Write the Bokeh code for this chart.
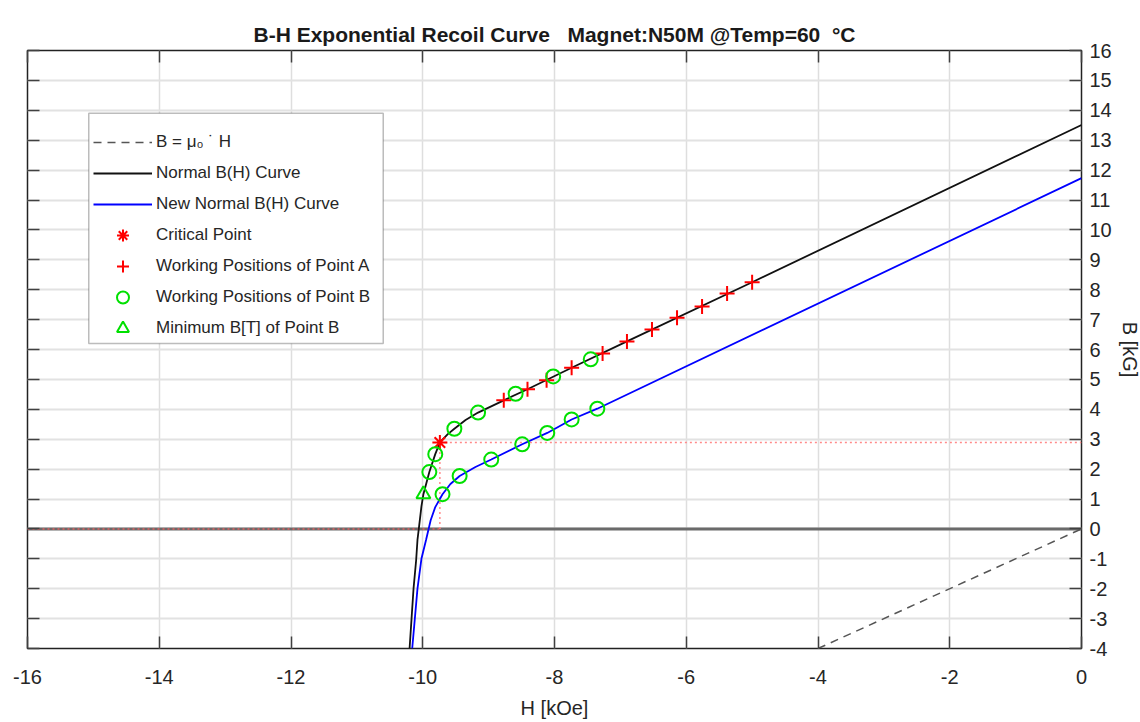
from bokeh.plotting import figure
from bokeh.models import Range1d, LinearAxis, FixedTicker, Legend, LegendItem, BoxAnnotation, Span
from bokeh.embed import file_html
from bokeh.resources import INLINE

# ---------------- data ----------------
x_ticks = [-16, -14, -12, -10, -8, -6, -4, -2, 0]
y_ticks = list(range(-4, 17))

mu0_H = [-4.0, 0.0]
mu0_B = [-4.0, 0.0]

normal_H = [-10.20, -10.17, -10.14, -10.10, -10.08, -10.06, -10.02, -9.99, -9.90,
            -9.81, -9.74, -9.62, -9.52, -9.35, -9.16, -8.77, -8.41, -7.74, -6.90, -5.00, 0.0]
normal_B = [-4.00, -3.00, -2.00, -1.04, -0.37, 0.00, 0.75, 1.16, 1.90,
            2.50, 2.89, 3.17, 3.35, 3.64, 3.89, 4.30, 4.67, 5.39, 6.27, 8.25, 13.51]

new_H = [-10.16, -10.12, -10.08, -10.02, -9.95, -9.88, -9.81, -9.70, -9.58, -9.44,
         -9.20, -8.96, -8.49, -8.11, -7.74, -7.35, 0.0]
new_B = [-4.00, -3.00, -2.00, -1.00, -0.37, 0.29, 0.73, 1.16, 1.50, 1.77,
         2.07, 2.32, 2.83, 3.21, 3.66, 4.02, 11.73]

crit_H = [-9.74]
crit_B = [2.89]

ptA_H = [-5.00, -5.38, -5.76, -6.14, -6.52, -6.90, -7.27, -7.74, -8.12, -8.41, -8.77]
ptA_B = [8.25, 7.87, 7.44, 7.06, 6.67, 6.27, 5.87, 5.39, 4.97, 4.67, 4.30]

ptB_H = [-7.45, -8.02, -8.59, -9.16, -9.52, -9.81, -9.90,
         -9.70, -9.44, -8.96, -8.49, -8.11, -7.74, -7.35]
ptB_B = [5.67, 5.10, 4.52, 3.89, 3.35, 2.50, 1.90,
         1.16, 1.77, 2.32, 2.83, 3.21, 3.66, 4.02]

minB_H = [-9.99]
minB_B = [1.16]

H_min, H_max = -16, 0
B_min, B_max = -4, 16

FONT = "Liberation Sans"
TXT = "#262626"

p = figure(frame_width=1054, frame_height=598,
           x_range=Range1d(H_min, H_max), y_range=Range1d(B_min, B_max),
           output_backend="svg", toolbar_location=None,
           x_axis_location="below", y_axis_location="right",
           min_border_left=27, min_border_top=50, min_border_right=40, min_border_bottom=70,
           title="B-H Exponential Recoil Curve \u00a0 Magnet:N50M @Temp=60 \u00a0\u00b0C")
p.background_fill_color = "white"
p.border_fill_color = "white"
p.outline_line_color = "#222222"
p.outline_line_width = 1.5

p.title.align = "center"
p.title.text_font = FONT
p.title.text_font_size = "21px"
p.title.text_font_style = "bold"
p.title.text_color = "#1a1a1a"

xt = FixedTicker(ticks=x_ticks)
yt = FixedTicker(ticks=y_ticks)

for ax in p.xaxis:
    ax.ticker = xt
    ax.axis_label = "H [kOe]"
    ax.major_label_overrides = {t: str(t) for t in x_ticks}
for ax in p.yaxis:
    ax.ticker = yt
    ax.axis_label = "B [kG]"
    ax.major_label_overrides = {t: str(t) for t in y_ticks}

for ax in list(p.xaxis) + list(p.yaxis):
    ax.major_tick_in = 12
    ax.major_tick_out = 0
    ax.minor_tick_line_color = None
    ax.axis_line_color = None
    ax.major_tick_line_color = "#404040"
    ax.major_tick_line_width = 1.5
    ax.major_label_text_font = FONT
    ax.major_label_text_font_size = "20px"
    ax.major_label_text_color = TXT
    ax.axis_label_text_font = FONT
    ax.axis_label_text_font_size = "20px"
    ax.axis_label_text_font_style = "normal"
    ax.axis_label_text_color = TXT

p.xaxis.major_label_standoff = 21
p.xaxis.axis_label_standoff = 10
p.yaxis.major_label_standoff = 8
p.yaxis.axis_label_standoff = 4

# mirrored axes (box on): ticks only, no labels
top_ax = LinearAxis(ticker=xt, major_tick_in=12, major_tick_out=0, minor_tick_line_color=None,
                    axis_line_color=None, major_tick_line_color="#404040", major_tick_line_width=1.5,
                    major_label_text_color=None, major_label_text_font_size="1px", major_label_standoff=0)
left_ax = LinearAxis(ticker=yt, major_tick_in=12, major_tick_out=0, minor_tick_line_color=None,
                     axis_line_color=None, major_tick_line_color="#404040", major_tick_line_width=1.5,
                     major_label_text_color=None, major_label_text_font_size="1px", major_label_standoff=0)
p.add_layout(top_ax, "above")
p.add_layout(left_ax, "left")

p.xgrid.ticker = xt
p.ygrid.ticker = yt
p.xgrid.grid_line_color = "#dedede"
p.ygrid.grid_line_color = "#e2e2e2"
p.xgrid.grid_line_width = 1.5
p.ygrid.grid_line_width = 2

zero = Span(location=0, dimension="width", line_color="#6a6a6a", line_width=3, level="underlay")
p.add_layout(zero)

# critical point guide lines
p.line([crit_H[0], H_max], [crit_B[0], crit_B[0]], line_color="#ff8a8a", line_dash="2 3", line_width=1.5)
p.line([crit_H[0], crit_H[0]], [0, crit_B[0]], line_color="#ff8a8a", line_dash="2 3", line_width=1.5)
p.line([H_min, crit_H[0]], [0, 0], line_color="#e06060", line_dash="2 3", line_width=1.5)

r_mu = p.line(mu0_H, mu0_B, line_color="#555555", line_dash="8 6", line_width=1.5)
r_norm = p.line(normal_H, normal_B, line_color="#111111", line_width=1.8)
r_new = p.line(new_H, new_B, line_color="#0000ff", line_width=1.8)
r_crit = p.scatter(crit_H, crit_B, marker="asterisk", size=15, line_color="#ff0000", line_width=2)
r_A = p.scatter(ptA_H, ptA_B, marker="cross", size=15, line_color="#ff0000", line_width=2)
r_B = p.scatter(ptB_H, ptB_B, marker="circle", size=14, line_color="#00e000", fill_color=None, line_width=2)
r_min = p.scatter(minB_H, minB_B, marker="triangle", size=14, line_color="#00e000", fill_color=None, line_width=2)

box = BoxAnnotation(left=-15.07, right=-10.60, top=13.90, bottom=6.20,
                    fill_color="white", fill_alpha=1.0, line_color="#222222", line_width=1.5,
                    level="annotation")
p.add_layout(box)

legend = Legend(items=[
    LegendItem(label="B = \u03bc\u2080 \u02d9 H", renderers=[r_mu]),
    LegendItem(label="Normal B(H) Curve", renderers=[r_norm]),
    LegendItem(label="New Normal B(H) Curve", renderers=[r_new]),
    LegendItem(label="Critical Point", renderers=[r_crit]),
    LegendItem(label="Working Positions of Point A", renderers=[r_A]),
    LegendItem(label="Working Positions of Point B", renderers=[r_B]),
    LegendItem(label="Minimum B[T] of Point B", renderers=[r_min]),
], location=(66, 305))
legend.margin = 0
legend.padding = 0
legend.border_line_color = None
legend.background_fill_alpha = 0
legend.glyph_width = 59
legend.glyph_height = 30
legend.label_height = 30
legend.spacing = 1
legend.label_standoff = 4
legend.label_text_font = FONT
legend.label_text_font_size = "17px"
legend.label_text_color = TXT
p.add_layout(legend, "center")

open("out.html", "w").write(file_html(p, INLINE))
